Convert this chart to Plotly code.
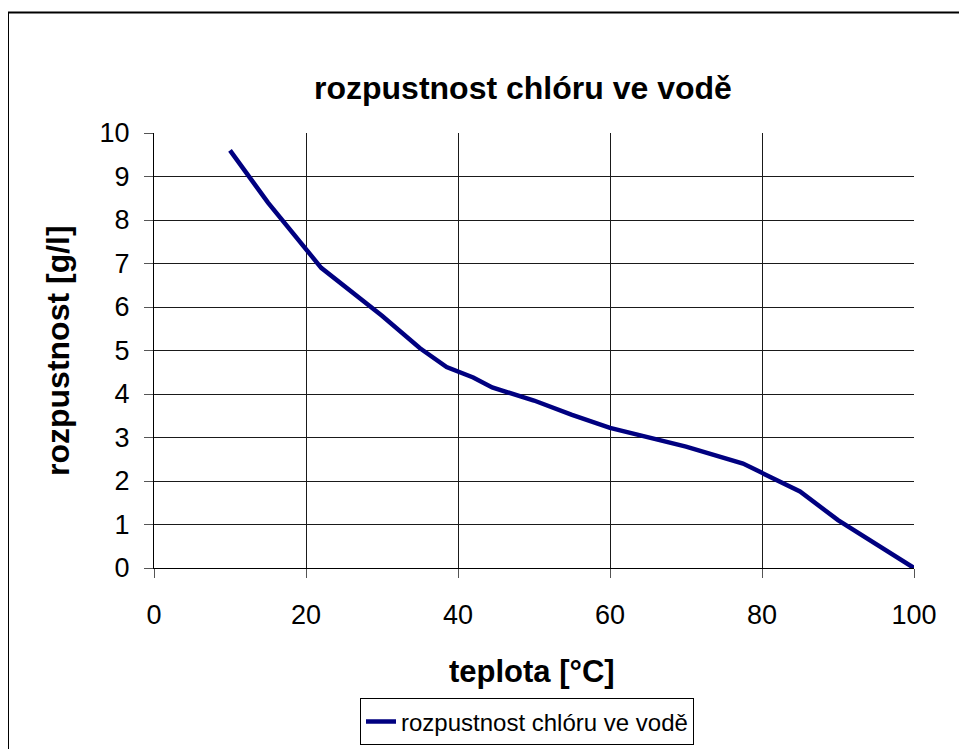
import plotly.graph_objects as go

# data
temp = [10, 15, 22, 30, 35, 38.5, 42, 44.5, 50, 55, 60, 65, 70, 77.5, 85, 90, 100]
solub = [9.6, 8.4, 6.9, 5.8, 5.05, 4.62, 4.38, 4.15, 3.85, 3.52, 3.22, 3.0, 2.79, 2.4, 1.76, 1.1, 0]
series_name = "rozpustnost chlóru ve vodě"
chart_title = "rozpustnost chlóru ve vodě"
x_title = "teplota [°C]"
y_title = "rozpustnost [g/l]"

FONT = "Liberation Sans, Arial, sans-serif"
W, H = 967, 749
OFF = 8  # page body margin
# plot area in page pixels: x 154..914, y 133..570
PX0, PX1, PY0, PY1 = 154, 914, 133, 570
L, T = PX0 - OFF, PY0 - OFF
R = W - (PX1 - OFF)
B = H - (PY1 - OFF)
pw, ph = PX1 - PX0, PY1 - PY0

def px(xp):
    return (xp - PX0) / pw

def py(yp):
    return (PY1 - yp) / ph

fig = go.Figure()
fig.add_trace(go.Scatter(
    x=temp, y=solub, mode="lines", name=series_name,
    line=dict(color="#000080", width=4.5), cliponaxis=False,
))

axis_common = dict(
    showgrid=True, gridcolor="#1a1a1a", gridwidth=1,
    showline=True, linecolor="#000000", linewidth=1,
    ticks="outside", ticklen=9, tickcolor="#555555", tickwidth=1,
    zeroline=False,
    tickfont=dict(family=FONT, size=27, color="#000"),
)

fig.update_layout(
    width=W, height=H,
    margin=dict(l=L, r=R, t=T, b=B),
    paper_bgcolor="white", plot_bgcolor="white",
    showlegend=True,
    xaxis=dict(range=[0, 100], dtick=20, tick0=0, ticklabelstandoff=14, **axis_common),
    yaxis=dict(range=[0, 10], dtick=1, tick0=0, ticklabelstandoff=9, **axis_common),
    legend=dict(
        x=px(527), xanchor="center", y=py(701), yanchor="top",
        bordercolor="#000", borderwidth=1, bgcolor="white",
        font=dict(family=FONT, size=24, color="#000"),
    ),
    annotations=[
        dict(text="<b>%s</b>" % chart_title, x=px(523), y=py(88), xref="paper", yref="paper",
             showarrow=False, xanchor="center", yanchor="middle",
             font=dict(family=FONT, size=32, color="#000")),
        dict(text="<b>%s</b>" % x_title, x=px(532), y=py(674), xref="paper", yref="paper",
             showarrow=False, xanchor="center", yanchor="middle",
             font=dict(family=FONT, size=31, color="#000")),
        dict(text="<b>%s</b>" % y_title, x=px(58), y=py(352), xref="paper", yref="paper",
             showarrow=False, xanchor="center", yanchor="middle", textangle=-90,
             font=dict(family=FONT, size=32, color="#000")),
    ],
    shapes=[
        dict(type="rect", xref="paper", yref="paper",
             x0=px(8), x1=px(1100), y0=py(1000), y1=py(12),
             line=dict(color="#000", width=2), layer="above"),
    ],
)

fig.write_html("out.html")
